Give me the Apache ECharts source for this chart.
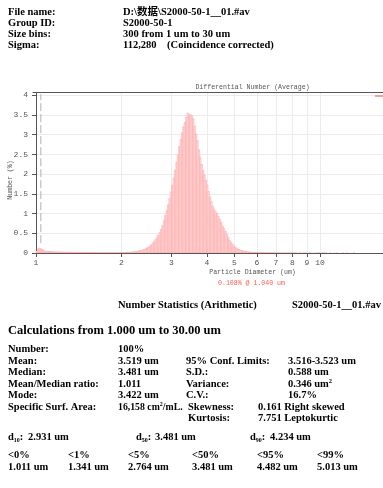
<!DOCTYPE html>
<html><head><meta charset="utf-8">
<script src="https://cdn.jsdelivr.net/npm/echarts@6/dist/echarts.min.js"></script>
<style>html,body{margin:0;padding:0;background:#fff}#c{width:383px;height:488px}</style>
</head><body><div id="c"></div><script>
// ---- data ----
const binCount = 300;          // size bins
const dMin = 1, dMax = 30;     // um
const numberPct = [
0.05,0.1,0.125,0.108,0.085,0.065,0.05,0.045,0.04,0.038,
0.035,0.033,0.03,0.03,0.028,0.028,0.027,0.026,0.025,0.025,
0.024,0.023,0.022,0.022,0.021,0.02,
0.02,0.019,0.019,0.018,0.018,0.017,0.017,0.016,0.016,0.015,0.015,0.014,0.014,0.013,0.013,0.012,0.012,0.011,0.011,0.01,
0.01,0.009,0.009,0.009,0.008,0.008,0.008,0.008,0.008,0.008,0.008,0.009,0.009,0.01,0.01,
0.011,0.012,0.013,0.015,0.017,0.019,0.022,0.025,0.029,0.034,
0.04,0.045,0.05,0.06,0.07,0.08,0.09,0.11,0.13,0.15,
0.18,0.21,0.25,0.29,0.34,0.39,0.45,0.52,0.6,
0.7,0.82,0.95,1.08,1.22,
1.38,1.55,1.72,1.9,2.1,2.3,2.5,2.7,2.88,3.05,3.2,3.32,3.44,3.55,3.5,
3.52,3.48,3.4,3.22,3.02,2.85,2.62,2.42,2.25,2.1,1.98,1.85,1.72,1.56,1.42,1.3,1.18,1.1,
1.05,1.0,0.93,0.85,0.78,
0.68,0.62,0.55,0.47,0.4,0.33,0.27,0.22,0.18,0.15,
0.12,0.1,0.085,0.07,0.06,0.05,0.043,0.037,0.032,0.028,0.024,0.021,0.018,0.016,0.014,0.012,0.011,0.01,
0.008,0.007,0.006,0.006,0.005,0.005,0.004,0.004,0.004,0.003,0.003,0.003,0.003,0.002,0.002,
0.002,0.002,0.001,0.002,0.001,0.001,0.002,0.001,0.001,0.001,0.001,0,0.001,0.001,0,0.001,0.001,0.001,0,0.001,0.001,0,0.001,0,
0.001,0.001,0.001,0,0.001,0.001,0.001,0.001,0,0,0.001,0,0,0.001,0,0.001,0,0,0,0.001,0,0,0.001,0,0,0,0,0.001,0,0,
0,0,0,0,0,0,0,0,0,0,0,0,0,0,0,0,0,0,0,0,
0,0,0,0,0,0,0,0,0,0,0,0,0,0,0,0,0,0,0,0,
0,0,0,0,0,0,0,0,0,0,0,0,0,0,0,0,0,0,0,0,
0,0,0,0,0,0,0,0,0,0
];
const xTickValues = [1,2,3,4,5,6,7,8,9,10];
const yTickValues = [0,0.5,1,1.5,2,2.5,3,3.5,4];
const cursorDiameter = 1.040, cursorPct = 0.108;
const seriesName = 'S2000-50-1__01.#av';

const headerLabels = ['File name:', 'Group ID:', 'Size bins:', 'Sigma:'];
const headerValues = ['D:\\数据\\S2000-50-1__01.#av', 'S2000-50-1', '300 from 1 um to 30 um', '112,280    (Coincidence corrected)'];
const statLabels = ['Number:', 'Mean:', 'Median:', 'Mean/Median ratio:', 'Mode:', 'Specific Surf. Area:', ''];
const statValues = ['100%', '3.519 um', '3.481 um', '1.011', '3.422 um', '16,158 cm{p|2}/mL.', ''];
const statLabels2 = ['', '95% Conf. Limits:', 'S.D.:', 'Variance:', 'C.V.:', 'Skewness:', 'Kurtosis:'];
const statValues2 = ['', '3.516-3.523 um', '0.588 um', '0.346 um{p|2}', '16.7%', '0.161 Right skewed', '7.751 Leptokurtic'];
const dLabels = ['10', '50', '90'];
const dValues = ['2.931 um', '3.481 um', '4.234 um'];
const pctLabels = ['<0%', '<1%', '<5%', '<50%', '<95%', '<99%'];
const pctValues = ['1.011 um', '1.341 um', '2.764 um', '3.481 um', '4.482 um', '5.013 um'];

// ---- build ----
const L0 = Math.log10(dMin), L1 = Math.log10(dMax);
const edges = [];
for (let i = 0; i <= binCount; i++) edges.push(L0 + i * (L1 - L0) / binCount);
const barData = numberPct.map((v, i) => [edges[i], edges[i + 1], v]);

const serif = '"Liberation Serif", "Times New Roman", "Noto Sans CJK SC", serif';
const mono = '"Liberation Mono", "DejaVu Sans Mono", monospace';
const F = 'bold 10.5px ' + serif;
const graphics = [];
function txt(s, x, y, extra, font) {
  graphics.push(Object.assign({type: 'text', x: x, y: y, style: {text: s, font: font || F, fill: '#000', verticalAlign: 'middle'}}, extra || {}));
}
// text that may hold a {p|2} superscript
function rtxt(s, x, y, extra) {
  const t = s.replace(/^([^{]+)/, '{a|$1}').replace(/\}([^{}]+)$/, '}{a|$1}');
  graphics.push(Object.assign({type: 'text', x: x, y: y, style: {
    text: s.indexOf('{') >= 0 ? t : s, font: F, fill: '#000', verticalAlign: 'middle',
    rich: {a: {font: F, fill: '#000', lineHeight: 12, verticalAlign: 'middle'},
           p: {font: 'bold 6.5px ' + serif, fill: '#000', lineHeight: 12, verticalAlign: 'top'}}}}, extra || {}));
}
const hy = [12.5, 23.5, 34.5, 45.5];
headerLabels.forEach((s, i) => txt(s, 8, hy[i]));
headerValues.forEach((s, i) => txt(s, 123, hy[i]));
txt('Number Statistics (Arithmetic)', 118, 305);
txt(seriesName, 292, 305);
txt('Calculations from 1.000 um to 30.00 um', 8, 330.5, null, 'bold 12.5px ' + serif);
const sy = [349.5, 361, 372.5, 384, 395.5, 407, 418.5];
statLabels.forEach((s, i) => s && txt(s, 8, sy[i]));
statValues.forEach((s, i) => s && rtxt(s, 118, sy[i], i === 5 ? {scaleX: 0.93} : null));
statLabels2.forEach((s, i) => s && txt(s, i >= 5 ? 188 : 186, sy[i]));
statValues2.forEach((s, i) => s && rtxt(s, i >= 5 ? 258 : 288, sy[i]));
const dx = [8, 136, 250], dvx = [28, 155, 270];
dLabels.forEach((s, i) => {
  graphics.push({type: 'text', x: dx[i], y: 437, style: {
    text: '{a|d}{s|' + s + '}{a|:}', verticalAlign: 'middle',
    rich: {a: {font: F, fill: '#000', lineHeight: 12, verticalAlign: 'middle'},
           s: {font: 'bold 6px ' + serif, fill: '#000', lineHeight: 12, verticalAlign: 'bottom', padding: [4, 0, 0, 0]}}}});
  txt(dValues[i], dvx[i], 437);
});
const px = [8, 68, 128, 192, 257, 317];
pctLabels.forEach((s, i) => txt(s, px[i], 455.5));
pctValues.forEach((s, i) => txt(s, px[i], 467));
// chart annotations (mono, condensed)
function mtxt(s, x, y, color, extra) {
  graphics.push(Object.assign({type: 'text', x: x, y: y, scaleX: 0.82, style: {text: s, font: '8px ' + mono, fill: color, align: 'center', verticalAlign: 'middle'}}, extra || {}));
}
mtxt('Differential Number (Average)', 252.5, 87, '#555');
mtxt('Particle Diameter (um)', 252.5, 271.5, '#555');
mtxt(cursorPct.toFixed(3) + '% @ ' + cursorDiameter.toFixed(3) + ' um', 251.5, 282.7, '#ff5a5a');
mtxt('Number (%)', 10, 180, '#555', {rotation: Math.PI / 2});

const gridLeft = 33, gridTop = 92.7, gridBottomY = 253;
const pxPerDec = 284;
const xMinL = -3 / pxPerDec;                // axis starts 3px left of d = 1
const gridWidth = 383 - gridLeft;           // plot runs to the right edge (cropped)
const xMaxL = xMinL + gridWidth / pxPerDec;
const yMax = 4.066;

const chart = echarts.init(document.getElementById('c'), null, {renderer: 'canvas'});
chart.setOption({
  animation: false,
  backgroundColor: '#fff',
  grid: {left: gridLeft, top: gridTop, right: 0, height: gridBottomY - gridTop, containLabel: false},
  legend: {left: 375, top: 92, padding: 0, itemWidth: 9, itemHeight: 1.5, icon: 'rect', data: [seriesName],
           textStyle: {fontFamily: mono, fontSize: 8, color: '#555'}},
  xAxis: [{
    type: 'value', min: xMinL, max: xMaxL, position: 'bottom',
    axisLine: {lineStyle: {color: '#555', width: 1}},
    axisTick: {show: true, length: 4, lineStyle: {color: '#555'}, customValues: xTickValues.map(Math.log10)},
    axisLabel: {customValues: xTickValues.map(Math.log10), formatter: v => String(Math.round(Math.pow(10, v))),
                fontFamily: mono, fontSize: 8, color: '#555', margin: 6},
    splitLine: {show: true, lineStyle: {color: '#ececec', width: 1}}
  }, {
    type: 'value', min: xMinL, max: xMaxL, position: 'top',
    axisLine: {show: true, onZero: false, lineStyle: {color: '#555', width: 1}},
    axisTick: {show: false}, axisLabel: {show: false}, splitLine: {show: false}
  }],
  yAxis: {
    type: 'value', min: 0, max: yMax,
    axisLine: {show: true, lineStyle: {color: '#555'}},
    axisTick: {show: true, length: 4, lineStyle: {color: '#555'}, customValues: yTickValues},
    axisLabel: {customValues: yTickValues, formatter: v => String(v), fontFamily: mono, fontSize: 8, color: '#555', margin: 5},
    splitLine: {show: true, lineStyle: {color: '#ececec', width: 1}}
  },
  series: [{
    name: seriesName, type: 'custom', xAxisIndex: 0, clip: true,
    itemStyle: {color: '#ff8080'},
    encode: {x: [0, 1], y: 2},
    data: barData,
    renderItem: function (params, api) {
      const v = api.value(2);
      if (!(v > 0)) return null;
      const p0 = api.coord([api.value(0), 0]);
      const p1 = api.coord([api.value(1), v]);
      return {type: 'rect', shape: {x: p0[0], y: p1[1], width: p1[0] - p0[0], height: p0[1] - p1[1]},
              style: {fill: '#ffe2e2', stroke: '#ff9c9c', lineWidth: 0.5}};
    }
  }, {
    name: 'cursor', type: 'line', xAxisIndex: 0, symbol: 'none', silent: true,
    data: [[Math.log10(cursorDiameter), 0.25], [Math.log10(cursorDiameter), 4.03]],
    lineStyle: {color: '#b0b0b0', width: 1, type: [8, 3]}
  }],
  graphic: graphics
});
</script></body></html>
